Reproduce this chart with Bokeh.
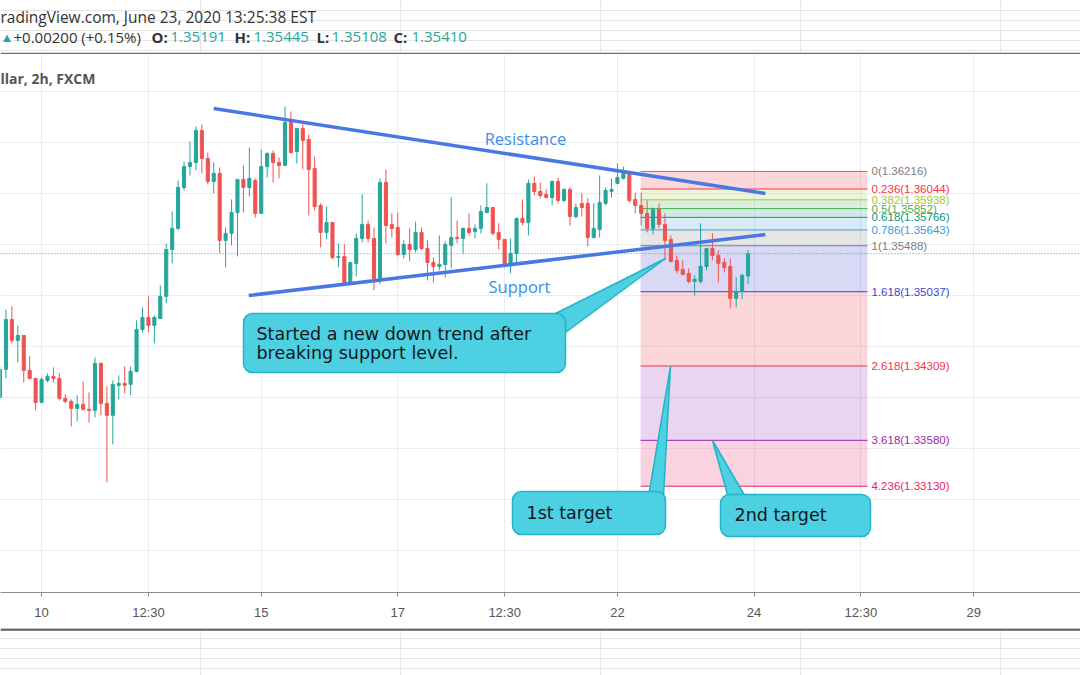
from bokeh.plotting import figure
from bokeh.layouts import column
from bokeh.models import Range1d, FixedTicker, Grid, Label, Span, ColumnDataSource
from bokeh.embed import file_html
from bokeh.resources import INLINE

# ---------------- data ----------------
OPEN = [1.34001,1.34276,1.34765,1.34560,1.34609,1.34266,1.34187,1.33952,1.34168,1.34207,
        1.34187,1.33991,1.33962,1.33893,1.33933,1.33884,1.33874,1.34334,1.33942,1.33825,
        1.34119,1.34138,1.34129,1.34256,1.34667,1.34785,1.34707,1.34775,1.34991,1.35451,
        1.35658,1.36059,1.36265,1.36304,1.36618,1.36344,1.36118,1.36197,1.35540,1.35609,
        1.35814,1.36138,1.36059,1.36128,1.35805,1.36265,1.36393,1.36304,1.36275,1.36696,
        1.36412,1.36638,1.36530,1.36246,1.35883,1.35618,1.35716,1.35373,1.35383,1.35128,
        1.35314,1.35560,1.35697,1.35560,1.35167,1.36108,1.35697,1.35667,1.35403,1.35500,
        1.35451,1.35618,1.35461,1.35324,1.35285,1.35305,1.35491,1.35569,1.35560,1.35658,
        1.35628,1.35658,1.35814,1.35863,1.35618,1.35550,1.35305,1.35412,1.35756,1.35716,
        1.36099,1.36020,1.35991,1.35961,1.36118,1.35932,1.36040,1.35775,1.35903,1.35903,
        1.35569,1.35648,1.35903,1.36020,1.36099,1.36148,1.36197,1.35942,1.35883,1.35805,
        1.35658,1.35844,1.35697,1.35550,1.35344,1.35256,1.35216,1.35138,1.35138,1.35285,
        1.35461,1.35393,1.35324,1.35285,1.34971,1.35040,1.35191]
CLOSE = [1.34276,1.34765,1.34560,1.34609,1.34266,1.34187,1.33952,1.34178,1.34207,1.34187,
         1.33991,1.33962,1.33893,1.33933,1.33884,1.33874,1.34334,1.33942,1.33825,1.34129,
         1.34138,1.34119,1.34256,1.34667,1.34785,1.34707,1.34785,1.34991,1.35451,1.35658,
         1.36059,1.36265,1.36304,1.36618,1.36344,1.36118,1.36197,1.35540,1.35609,1.35814,
         1.36138,1.36059,1.36148,1.35805,1.36265,1.36393,1.36304,1.36275,1.36696,1.36402,
         1.36638,1.36520,1.36236,1.35873,1.35618,1.35716,1.35373,1.35383,1.35128,1.35324,
         1.35560,1.35697,1.35560,1.35167,1.36108,1.35687,1.35658,1.35403,1.35500,1.35451,
         1.35618,1.35461,1.35324,1.35285,1.35305,1.35500,1.35569,1.35560,1.35658,1.35618,
         1.35658,1.35824,1.35863,1.35609,1.35550,1.35305,1.35412,1.35756,1.35716,1.36099,
         1.36020,1.35981,1.35961,1.36118,1.35932,1.36040,1.35775,1.35863,1.35863,1.35569,
         1.35658,1.35912,1.36030,1.36040,1.36157,1.36197,1.35932,1.35883,1.35805,1.35658,
         1.35844,1.35697,1.35540,1.35334,1.35246,1.35207,1.35138,1.35158,1.35285,1.35461,
         1.35393,1.35314,1.35275,1.34971,1.35040,1.35197,1.35410]
HIGH = [1.34305,1.34863,1.34893,1.34707,1.34609,1.34403,1.34187,1.34197,1.34236,1.34295,
        1.34236,1.34031,1.33982,1.34021,1.34158,1.34050,1.34393,1.34344,1.34109,1.34168,
        1.34217,1.34305,1.34305,1.34756,1.34883,1.34991,1.34805,1.35099,1.35511,1.35824,
        1.36128,1.36314,1.36510,1.36657,1.36677,1.36402,1.36304,1.36255,1.35667,1.35942,
        1.36138,1.36275,1.36451,1.36148,1.36432,1.36402,1.36422,1.36353,1.36853,1.36804,
        1.36638,1.36677,1.36579,1.36363,1.35903,1.35873,1.35716,1.35511,1.35500,1.35324,
        1.35609,1.35991,1.35736,1.35667,1.36148,1.36236,1.35805,1.35814,1.35540,1.35658,
        1.35726,1.35667,1.35540,1.35373,1.35589,1.35530,1.35961,1.35736,1.35667,1.35805,
        1.35697,1.35883,1.36099,1.35863,1.35707,1.35550,1.35560,1.35765,1.35942,1.36138,
        1.36167,1.36108,1.36040,1.36128,1.36157,1.36050,1.36059,1.35903,1.36001,1.35952,
        1.35903,1.36177,1.36059,1.36148,1.36295,1.36265,1.36197,1.36010,1.36010,1.35932,
        1.35863,1.35903,1.35805,1.35589,1.35393,1.35344,1.35265,1.35197,1.35707,1.35461,
        1.35609,1.35442,1.35363,1.35363,1.35177,1.35216,1.35445]
LOW = [1.33972,1.34187,1.34530,1.34344,1.34148,1.34178,1.33874,1.33945,1.34148,1.34148,
       1.33972,1.33942,1.33717,1.33766,1.33874,1.33756,1.33805,1.33825,1.33168,1.33540,
       1.33982,1.34040,1.34021,1.34246,1.34638,1.34638,1.34530,1.34775,1.34922,1.35314,
       1.35638,1.36030,1.36177,1.36226,1.36197,1.36089,1.36001,1.35412,1.35275,1.35491,
       1.35383,1.35814,1.35971,1.35765,1.35805,1.36157,1.36108,1.36148,1.36275,1.36393,
       1.36295,1.36236,1.35785,1.35834,1.35471,1.35550,1.35354,1.35275,1.35118,1.35118,
       1.35187,1.35520,1.35520,1.35050,1.35109,1.35511,1.35569,1.35383,1.35363,1.35334,
       1.35422,1.35442,1.35148,1.35128,1.35246,1.35177,1.35265,1.35511,1.35412,1.35589,
       1.35560,1.35609,1.35805,1.35589,1.35451,1.35275,1.35216,1.35324,1.35687,1.35589,
       1.35981,1.35952,1.35952,1.35883,1.35903,1.35912,1.35687,1.35756,1.35775,1.35481,
       1.35560,1.35569,1.35883,1.35961,1.36089,1.36138,1.35912,1.35805,1.35687,1.35618,
       1.35599,1.35658,1.35344,1.35324,1.35216,1.35197,1.35118,1.35001,1.35118,1.35246,
       1.35344,1.35128,1.35226,1.34873,1.34883,1.34961,1.35108]

TICK_BARS = [7, 25, 44, 67, 85, 104, 127, 145, 164]
TICK_LABELS = ["10", "12:30", "15", "17", "12:30", "22", "24", "12:30", "29"]
GRID_PRICES = [1.320, 1.325, 1.330, 1.335, 1.340, 1.345, 1.350, 1.355, 1.360, 1.365, 1.370]

FIB_RATIOS = ["0", "0.236", "0.382", "0.5", "0.618", "0.786", "1", "1.618", "2.618", "3.618", "4.236"]
FIB_PRICES = [1.36216, 1.36044, 1.35938, 1.35852, 1.35766, 1.35643, 1.35488, 1.35037, 1.34309, 1.33580, 1.33130]
FIB_COLORS = ["#808080", "#f23645", "#a4c639", "#4caf50", "#089981", "#3d9ad9", "#808080",
              "#3f3fd1", "#f23645", "#9c27b0", "#e91e63"]
FIB_START_BAR = 107.9
FIB_END_BAR = 146.1

RES_BARS = [36.0, 128.9]
RES_PRICES = [1.36833, 1.36000]
SUP_BARS = [41.9, 128.9]
SUP_PRICES = [1.35000, 1.35598]

LAST_PRICE = CLOSE[-1]

GREEN = "#26a69a"
RED = "#ef5350"

# ---------------- geometry helpers (canvas pixels -> data) ----------------
PX_PER_BAR = 5.937
X0 = 0.084


def bx(px):
    return X0 + px / PX_PER_BAR


def py(y):
    return 1.355 - (y - 244) * 0.005 / 51


W = 1080
FRAME_TOP = 54
FRAME_BOTTOM = 592
BOTTOM_RULE = 628

# ---------------- header strip ----------------
hdr = figure(width=W, height=FRAME_TOP, output_backend="svg", toolbar_location=None, title=None,
             x_axis_location=None, y_axis_location=None,
             x_range=Range1d(0, W), y_range=Range1d(FRAME_TOP, 0), min_border=0)
hdr.outline_line_color = None
hdr.background_fill_color = "white"
hdr.border_fill_color = "white"
hdr.add_layout(Label(x=0, y=16, text="radingView.com, June 23, 2020 13:25:38 EST",
                     text_color="#333333", text_font="Open Sans", text_font_size="15.5px",
                     text_align="left", text_baseline="middle"))
header2 = [(0, "\u25b2", GREEN, "normal", "13px"),
           (13, "+0.00200 (+0.15%)", "#333333", "normal", "15px"),
           (151, "O:", "#333333", "bold", "15px"), (170, f"{OPEN[-1]:.5f}", GREEN, "normal", "15px"),
           (234, "H:", "#333333", "bold", "15px"), (253, f"{HIGH[-1]:.5f}", GREEN, "normal", "15px"),
           (316, "L:", "#333333", "bold", "15px"), (331, f"{LOW[-1]:.5f}", GREEN, "normal", "15px"),
           (393, "C:", "#333333", "bold", "15px"), (411, f"{CLOSE[-1]:.5f}", GREEN, "normal", "15px")]
for hx, t, c, st, fs in header2:
    hdr.add_layout(Label(x=hx, y=36, text=t, text_color=c, text_font="Open Sans",
                         text_font_style=st, text_font_size=fs,
                         text_align="left", text_baseline="middle"))
hdr.add_layout(Span(location=FRAME_TOP - 1, dimension="width", line_color="#6a6d78", line_width=1.5))

# ---------------- main chart ----------------
p = figure(width=W, height=BOTTOM_RULE - FRAME_TOP, output_backend="svg", toolbar_location=None,
           title=None, y_axis_location=None,
           x_range=Range1d(bx(0), bx(W)), y_range=Range1d(py(FRAME_BOTTOM), py(FRAME_TOP)),
           min_border_left=0, min_border_right=0, min_border_top=0,
           min_border_bottom=BOTTOM_RULE - FRAME_BOTTOM)
p.background_fill_color = "white"
p.border_fill_color = "white"
p.outline_line_color = None

ax = p.xaxis[0]
ax.ticker = FixedTicker(ticks=TICK_BARS)
ax.major_label_overrides = {b: l for b, l in zip(TICK_BARS, TICK_LABELS)}
ax.major_label_text_font = "Liberation Sans"
ax.major_label_text_font_size = "13px"
ax.major_label_text_color = "#555555"
ax.major_label_standoff = 8
ax.axis_line_color = "#8a8d96"
ax.major_tick_line_color = "#8a8d96"
ax.major_tick_out = 4
ax.major_tick_in = 0
ax.minor_tick_line_color = None

p.xgrid.grid_line_color = "#e8edf4"
p.xgrid.ticker = FixedTicker(ticks=TICK_BARS)
p.add_layout(Grid(dimension=1, ticker=FixedTicker(ticks=GRID_PRICES), grid_line_color="#e8edf4"))

# fib bands and levels
for i in range(len(FIB_PRICES) - 1):
    p.quad(left=FIB_START_BAR, right=FIB_END_BAR, top=FIB_PRICES[i], bottom=FIB_PRICES[i + 1],
           fill_color=FIB_COLORS[i + 1], fill_alpha=0.2, line_color=None)
for r, pr, c in zip(FIB_RATIOS, FIB_PRICES, FIB_COLORS):
    p.segment(x0=FIB_START_BAR, y0=pr, x1=FIB_END_BAR, y1=pr, line_color=c, line_width=1)
    p.add_layout(Label(x=bx(871), y=pr, text=f"{r}({pr:.5f})", text_color=c,
                       text_font="Liberation Sans", text_font_size="11.5px",
                       text_baseline="middle", text_align="left"))

# current price dotted line
p.add_layout(Span(location=LAST_PRICE, dimension="width", line_color=GREEN,
                  line_dash="1 2", line_width=1))

# candles
n = len(OPEN)
src = ColumnDataSource(dict(
    x=list(range(n)),
    top=[max(o, c) for o, c in zip(OPEN, CLOSE)],
    bottom=[min(o, c) for o, c in zip(OPEN, CLOSE)],
    high=[max(h, o, c) for h, o, c in zip(HIGH, OPEN, CLOSE)],
    low=[min(l, o, c) for l, o, c in zip(LOW, OPEN, CLOSE)],
    color=[GREEN if c >= o else RED for o, c in zip(OPEN, CLOSE)],
))
p.segment(x0="x", y0="high", x1="x", y1="low", line_color="color", line_width=1, source=src)
p.vbar(x="x", width=0.52, top="top", bottom="bottom", fill_color="color",
       line_color="color", line_width=1, source=src)

# trend lines
p.line(RES_BARS, RES_PRICES, line_color="#4a78e2", line_width=3.5)
p.line(SUP_BARS, SUP_PRICES, line_color="#4a78e2", line_width=3.5)
p.add_layout(Label(x=bx(525), y=py(138), text="Resistance", text_color="#3a8ee6",
                   text_font="Open Sans", text_font_size="16.5px",
                   text_align="center", text_baseline="middle"))
p.add_layout(Label(x=bx(519), y=py(286), text="Support", text_color="#3a8ee6",
                   text_font="Open Sans", text_font_size="16.5px",
                   text_align="center", text_baseline="middle"))

# callouts
CALL_FILL = "#4dd0e1"
CALL_LINE = "#22b5c9"
wedges = [
    [(545, 318), (565, 332), (665, 258)],
    [(648, 496), (663, 496), (670, 366)],
    [(728, 498), (746, 498), (712, 440)],
]
p.patches(xs=[[bx(a) for a, b in w] for w in wedges], ys=[[py(b) for a, b in w] for w in wedges],
          fill_color=CALL_FILL, line_color=CALL_LINE, line_width=1.5)
boxes = [(243, 565, 313, 372), (512, 665, 491, 534), (720, 870, 494, 536)]
p.quad(left=[bx(b[0]) for b in boxes], right=[bx(b[1]) for b in boxes],
       top=[py(b[2]) for b in boxes], bottom=[py(b[3]) for b in boxes],
       fill_color=CALL_FILL, line_color=CALL_LINE, line_width=1.5, border_radius=9)
for tx, ty, t in [(256, 333, "Started a new down trend after"),
                  (256, 352, "breaking support level."),
                  (526, 512, "1st target"),
                  (734, 514, "2nd target")]:
    p.add_layout(Label(x=bx(tx), y=py(ty), text=t, text_color="#131722",
                       text_font="DejaVu Sans", text_font_size="17.5px",
                       text_align="left", text_baseline="middle"))

p.add_layout(Label(x=bx(0), y=py(78), text="llar, 2h, FXCM", text_color="#555555",
                   text_font="Open Sans", text_font_style="bold", text_font_size="14px",
                   text_align="left", text_baseline="middle"))

# ---------------- footer strip with bottom rule ----------------
ftr = figure(width=W, height=675 - BOTTOM_RULE, output_backend="svg", toolbar_location=None,
             title=None, x_axis_location=None, y_axis_location=None,
             x_range=Range1d(0, W), y_range=Range1d(675 - BOTTOM_RULE, 0), min_border=0)
ftr.outline_line_color = None
ftr.background_fill_color = "white"
ftr.border_fill_color = "white"
ftr.add_layout(Span(location=1.0, dimension="width", line_color="#5d606b", line_width=2.5))

page = column(hdr, p, ftr, spacing=0)
open("out.html", "w").write(file_html(page, INLINE))
